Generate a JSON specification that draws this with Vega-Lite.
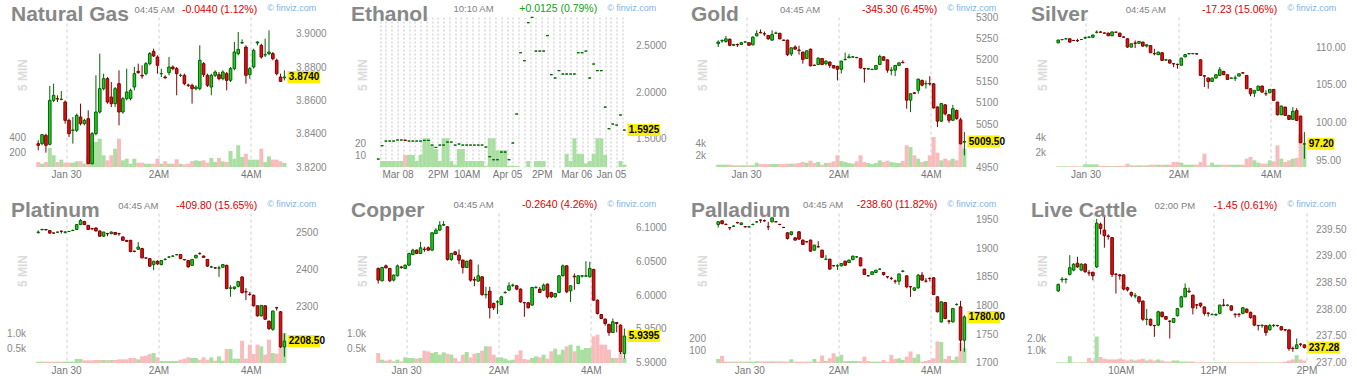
{
"$schema": "https://vega.github.io/schema/vega-lite/v6.json",
"background": "white",
"padding": {"left": 6.5, "top": 3, "right": 0, "bottom": 0},
"config": {
 "view": {"stroke": null},
 "axis": {"domain": false, "ticks": false, "labelFont": "Liberation Sans", "labelFontSize": 10, "labelColor": "#888888", "gridColor": "#cccccc", "gridDash": [3, 3], "labelFlush": false, "labelOverlap": false, "tickCount": 100},
 "axisX": {"labelPadding": 2, "labelColor": "#777777"},
 "axisY": {"labelPadding": 4},
 "text": {"font": "Liberation Sans"}
},
"datasets": {
"ng": [{"i":0,"o":3.834,"h":3.836,"l":3.83,"c":3.833,"v":67},{"i":1,"o":3.834,"h":3.8396,"l":3.833,"c":3.8394,"v":44},{"i":2,"o":3.839,"h":3.84,"l":3.8286,"c":3.833,"v":67},{"i":3,"o":3.8336,"h":3.8686,"l":3.833,"c":3.86,"v":253},{"i":4,"o":3.86,"h":3.87,"l":3.859,"c":3.863,"v":156},{"i":5,"o":3.861,"h":3.863,"l":3.859,"c":3.8608,"v":67},{"i":6,"o":3.8606,"h":3.8656,"l":3.86,"c":3.8606,"v":98},{"i":7,"o":3.859,"h":3.86,"l":3.846,"c":3.848,"v":58},{"i":8,"o":3.848,"h":3.849,"l":3.838,"c":3.84,"v":58},{"i":9,"o":3.842,"h":3.85,"l":3.834,"c":3.8422,"v":58},{"i":10,"o":3.842,"h":3.852,"l":3.841,"c":3.851,"v":76},{"i":11,"o":3.85,"h":3.858,"l":3.845,"c":3.846,"v":76},{"i":12,"o":3.846,"h":3.849,"l":3.845,"c":3.848,"v":44},{"i":13,"o":3.849,"h":3.854,"l":3.822,"c":3.822,"v":156},{"i":14,"o":3.822,"h":3.841,"l":3.8215,"c":3.84,"v":290},{"i":15,"o":3.84,"h":3.875,"l":3.839,"c":3.853,"v":333},{"i":16,"o":3.853,"h":3.888,"l":3.852,"c":3.867,"v":378},{"i":17,"o":3.867,"h":3.876,"l":3.866,"c":3.873,"v":156},{"i":18,"o":3.873,"h":3.874,"l":3.858,"c":3.859,"v":89},{"i":19,"o":3.862,"h":3.871,"l":3.856,"c":3.858,"v":156},{"i":20,"o":3.858,"h":3.868,"l":3.856,"c":3.867,"v":244},{"i":21,"o":3.87,"h":3.878,"l":3.845,"c":3.853,"v":378},{"i":22,"o":3.853,"h":3.862,"l":3.852,"c":3.861,"v":89},{"i":23,"o":3.861,"h":3.879,"l":3.86,"c":3.865,"v":111},{"i":24,"o":3.861,"h":3.867,"l":3.86,"c":3.866,"v":44},{"i":25,"o":3.868,"h":3.88,"l":3.866,"c":3.876,"v":111},{"i":26,"o":3.8774,"h":3.882,"l":3.876,"c":3.8766,"v":58},{"i":27,"o":3.875,"h":3.881,"l":3.873,"c":3.8746,"v":58},{"i":28,"o":3.876,"h":3.883,"l":3.875,"c":3.882,"v":44},{"i":29,"o":3.882,"h":3.889,"l":3.881,"c":3.888,"v":44},{"i":30,"o":3.8894,"h":3.891,"l":3.886,"c":3.8866,"v":44},{"i":31,"o":3.886,"h":3.887,"l":3.876,"c":3.881,"v":111},{"i":32,"o":3.876,"h":3.879,"l":3.874,"c":3.876,"v":44},{"i":33,"o":3.874,"h":3.875,"l":3.873,"c":3.8735,"v":76},{"i":34,"o":3.8766,"h":3.886,"l":3.875,"c":3.88,"v":44},{"i":35,"o":3.88,"h":3.881,"l":3.878,"c":3.879,"v":44},{"i":36,"o":3.879,"h":3.88,"l":3.863,"c":3.876,"v":102},{"i":37,"o":3.875,"h":3.876,"l":3.874,"c":3.875,"v":44},{"i":38,"o":3.875,"h":3.876,"l":3.869,"c":3.87,"v":36},{"i":39,"o":3.8692,"h":3.87,"l":3.868,"c":3.869,"v":44},{"i":40,"o":3.869,"h":3.87,"l":3.858,"c":3.867,"v":80},{"i":41,"o":3.867,"h":3.869,"l":3.866,"c":3.868,"v":89},{"i":42,"o":3.867,"h":3.893,"l":3.866,"c":3.884,"v":80},{"i":43,"o":3.882,"h":3.883,"l":3.874,"c":3.8754,"v":89},{"i":44,"o":3.875,"h":3.876,"l":3.868,"c":3.869,"v":58},{"i":45,"o":3.868,"h":3.876,"l":3.863,"c":3.875,"v":120},{"i":46,"o":3.875,"h":3.878,"l":3.874,"c":3.877,"v":67},{"i":47,"o":3.8754,"h":3.877,"l":3.872,"c":3.873,"v":120},{"i":48,"o":3.873,"h":3.878,"l":3.872,"c":3.877,"v":76},{"i":49,"o":3.876,"h":3.877,"l":3.866,"c":3.872,"v":67},{"i":50,"o":3.872,"h":3.88,"l":3.871,"c":3.879,"v":213},{"i":51,"o":3.879,"h":3.895,"l":3.878,"c":3.889,"v":111},{"i":52,"o":3.888,"h":3.901,"l":3.887,"c":3.8906,"v":290},{"i":53,"o":3.8944,"h":3.8966,"l":3.894,"c":3.8946,"v":133},{"i":54,"o":3.892,"h":3.893,"l":3.87,"c":3.875,"v":178},{"i":55,"o":3.8754,"h":3.88,"l":3.873,"c":3.879,"v":98},{"i":56,"o":3.88,"h":3.891,"l":3.879,"c":3.89,"v":98},{"i":57,"o":3.8944,"h":3.8955,"l":3.893,"c":3.895,"v":98},{"i":58,"o":3.893,"h":3.894,"l":3.885,"c":3.886,"v":244},{"i":59,"o":3.8872,"h":3.897,"l":3.886,"c":3.8874,"v":67},{"i":60,"o":3.888,"h":3.902,"l":3.887,"c":3.889,"v":142},{"i":61,"o":3.888,"h":3.889,"l":3.884,"c":3.885,"v":98},{"i":62,"o":3.884,"h":3.885,"l":3.875,"c":3.876,"v":98},{"i":63,"o":3.874,"h":3.876,"l":3.871,"c":3.8714,"v":76},{"i":64,"o":3.8735,"h":3.878,"l":3.872,"c":3.874,"v":53}],
"eth": [{"i":0,"o":1.282,"h":1.282,"l":1.282,"c":1.282,"v":0},{"i":1,"o":1.425,"h":1.425,"l":1.425,"c":1.425,"v":5},{"i":2,"o":1.475,"h":1.475,"l":1.475,"c":1.475,"v":5},{"i":3,"o":1.475,"h":1.475,"l":1.475,"c":1.475,"v":5},{"i":4,"o":1.475,"h":1.475,"l":1.475,"c":1.475,"v":5},{"i":5,"o":1.486,"h":1.486,"l":1.486,"c":1.486,"v":5},{"i":6,"o":1.486,"h":1.486,"l":1.486,"c":1.486,"v":5},{"i":7,"o":1.486,"h":1.486,"l":1.482,"c":1.482,"v":10},{"i":8,"o":1.475,"h":1.475,"l":1.475,"c":1.475,"v":10},{"i":9,"o":1.475,"h":1.475,"l":1.475,"c":1.475,"v":10},{"i":10,"o":1.475,"h":1.475,"l":1.475,"c":1.475,"v":5},{"i":11,"o":1.475,"h":1.475,"l":1.475,"c":1.475,"v":10},{"i":12,"o":1.482,"h":1.482,"l":1.482,"c":1.482,"v":24},{"i":13,"o":1.482,"h":1.482,"l":1.482,"c":1.482,"v":24},{"i":14,"o":1.432,"h":1.432,"l":1.432,"c":1.432,"v":18},{"i":15,"o":1.407,"h":1.407,"l":1.407,"c":1.407,"v":15},{"i":16,"o":1.432,"h":1.432,"l":1.432,"c":1.432,"v":5},{"i":17,"o":1.432,"h":1.432,"l":1.432,"c":1.432,"v":24},{"i":18,"o":1.464,"h":1.464,"l":1.464,"c":1.464,"v":24},{"i":19,"o":1.464,"h":1.464,"l":1.464,"c":1.464,"v":5},{"i":20,"o":1.432,"h":1.432,"l":1.432,"c":1.432,"v":2},{"i":21,"o":1.443,"h":1.443,"l":1.443,"c":1.443,"v":15},{"i":22,"o":1.432,"h":1.432,"l":1.432,"c":1.432,"v":15},{"i":23,"o":1.432,"h":1.432,"l":1.432,"c":1.432,"v":5},{"i":24,"o":1.432,"h":1.432,"l":1.432,"c":1.432,"v":5},{"i":25,"o":1.432,"h":1.432,"l":1.432,"c":1.432,"v":5},{"i":26,"o":1.432,"h":1.432,"l":1.432,"c":1.432,"v":5},{"i":27,"o":1.432,"h":1.432,"l":1.432,"c":1.432,"v":5},{"i":28,"o":1.411,"h":1.411,"l":1.411,"c":1.411,"v":1},{"i":29,"o":1.307,"h":1.307,"l":1.307,"c":1.307,"v":24},{"i":30,"o":1.275,"h":1.275,"l":1.275,"c":1.275,"v":24},{"i":31,"o":1.275,"h":1.275,"l":1.275,"c":1.275,"v":14},{"i":32,"o":1.357,"h":1.357,"l":1.357,"c":1.357,"v":14},{"i":33,"o":1.357,"h":1.357,"l":1.357,"c":1.357,"v":14},{"i":34,"o":1.275,"h":1.275,"l":1.275,"c":1.275,"v":1},{"i":35,"o":1.454,"h":1.454,"l":1.454,"c":1.454,"v":1},{"i":36,"o":1.764,"h":1.764,"l":1.764,"c":1.764,"v":1},{"i":37,"o":2.421,"h":2.421,"l":2.421,"c":2.421,"v":0},{"i":38,"o":2.336,"h":2.336,"l":2.336,"c":2.336,"v":0},{"i":39,"o":2.743,"h":2.743,"l":2.743,"c":2.743,"v":5},{"i":40,"o":2.8,"h":2.8,"l":2.8,"c":2.8,"v":0},{"i":41,"o":2.439,"h":2.439,"l":2.439,"c":2.439,"v":5},{"i":42,"o":2.439,"h":2.439,"l":2.439,"c":2.439,"v":5},{"i":43,"o":2.439,"h":2.439,"l":2.439,"c":2.439,"v":5},{"i":44,"o":2.604,"h":2.604,"l":2.604,"c":2.604,"v":0},{"i":45,"o":2.186,"h":2.186,"l":2.186,"c":2.186,"v":0},{"i":46,"o":2.15,"h":2.15,"l":2.15,"c":2.15,"v":0},{"i":47,"o":2.229,"h":2.229,"l":2.229,"c":2.229,"v":0},{"i":48,"o":2.193,"h":2.193,"l":2.193,"c":2.193,"v":0},{"i":49,"o":2.193,"h":2.193,"l":2.193,"c":2.193,"v":11},{"i":50,"o":2.193,"h":2.193,"l":2.193,"c":2.193,"v":5},{"i":51,"o":2.193,"h":2.193,"l":2.193,"c":2.193,"v":24},{"i":52,"o":2.421,"h":2.421,"l":2.421,"c":2.421,"v":11},{"i":53,"o":2.421,"h":2.421,"l":2.421,"c":2.421,"v":11},{"i":54,"o":2.439,"h":2.439,"l":2.439,"c":2.439,"v":3},{"i":55,"o":2.15,"h":2.15,"l":2.15,"c":2.15,"v":5},{"i":56,"o":2.3,"h":2.3,"l":2.3,"c":2.3,"v":11},{"i":57,"o":2.229,"h":2.229,"l":2.229,"c":2.229,"v":24},{"i":58,"o":2.229,"h":2.229,"l":2.229,"c":2.229,"v":24},{"i":59,"o":1.839,"h":1.839,"l":1.839,"c":1.839,"v":10},{"i":60,"o":1.607,"h":1.607,"l":1.607,"c":1.607,"v":0},{"i":61,"o":1.657,"h":1.657,"l":1.657,"c":1.657,"v":0},{"i":62,"o":1.646,"h":1.646,"l":1.646,"c":1.646,"v":0},{"i":63,"o":1.754,"h":1.754,"l":1.754,"c":1.754,"v":5},{"i":64,"o":1.5925,"h":1.5925,"l":1.5925,"c":1.5925,"v":2}],
"gold": [{"i":0,"o":5237.8,"h":5245.6,"l":5230,"c":5241.7,"v":400},{"i":1,"o":5244,"h":5248,"l":5240,"c":5245,"v":400},{"i":2,"o":5243,"h":5256,"l":5240,"c":5249,"v":400},{"i":3,"o":5248,"h":5250,"l":5231.6,"c":5234,"v":400},{"i":4,"o":5234,"h":5237,"l":5232,"c":5236,"v":286},{"i":5,"o":5236,"h":5238,"l":5230,"c":5235,"v":286},{"i":6,"o":5236,"h":5242,"l":5235,"c":5240,"v":286},{"i":7,"o":5241.7,"h":5243,"l":5240,"c":5241.7,"v":286},{"i":8,"o":5240,"h":5241,"l":5233,"c":5234,"v":286},{"i":9,"o":5235,"h":5255,"l":5234,"c":5253,"v":286},{"i":10,"o":5256,"h":5269,"l":5255,"c":5261,"v":743},{"i":11,"o":5264,"h":5271,"l":5262,"c":5263,"v":500},{"i":12,"o":5261,"h":5266,"l":5255.7,"c":5260.5,"v":500},{"i":13,"o":5257,"h":5258,"l":5247,"c":5249,"v":500},{"i":14,"o":5246,"h":5269,"l":5245,"c":5259,"v":500},{"i":15,"o":5262,"h":5266,"l":5261,"c":5262.5,"v":500},{"i":16,"o":5262,"h":5263,"l":5248,"c":5249,"v":500},{"i":17,"o":5246,"h":5247,"l":5244,"c":5245.6,"v":500},{"i":18,"o":5246,"h":5247,"l":5209,"c":5212,"v":570},{"i":19,"o":5214,"h":5229,"l":5209,"c":5228,"v":570},{"i":20,"o":5230,"h":5234,"l":5224,"c":5225,"v":570},{"i":21,"o":5223,"h":5233,"l":5212,"c":5222,"v":685},{"i":22,"o":5218,"h":5219,"l":5191,"c":5201,"v":857},{"i":23,"o":5203,"h":5222,"l":5202,"c":5221,"v":743},{"i":24,"o":5225,"h":5226,"l":5185,"c":5186,"v":1086},{"i":25,"o":5187.5,"h":5189,"l":5186,"c":5187,"v":685},{"i":26,"o":5189,"h":5206,"l":5188,"c":5204,"v":857},{"i":27,"o":5203,"h":5204,"l":5188,"c":5189,"v":400},{"i":28,"o":5191,"h":5199,"l":5187,"c":5197,"v":685},{"i":29,"o":5195,"h":5196,"l":5181,"c":5187,"v":743},{"i":30,"o":5187,"h":5188,"l":5180,"c":5181,"v":971},{"i":31,"o":5185,"h":5186,"l":5152,"c":5178,"v":2000},{"i":32,"o":5178,"h":5198,"l":5168,"c":5197,"v":1029},{"i":33,"o":5200.4,"h":5217,"l":5199,"c":5201,"v":857},{"i":34,"o":5205,"h":5214,"l":5204,"c":5207,"v":685},{"i":35,"o":5206.5,"h":5209,"l":5205,"c":5207,"v":570},{"i":36,"o":5205.5,"h":5207,"l":5204,"c":5205.1,"v":971},{"i":37,"o":5203,"h":5204,"l":5180,"c":5181,"v":2000},{"i":38,"o":5180,"h":5181,"l":5147,"c":5179,"v":857},{"i":39,"o":5178.5,"h":5180,"l":5177,"c":5179.4,"v":685},{"i":40,"o":5177.5,"h":5179,"l":5176,"c":5178,"v":500},{"i":41,"o":5178,"h":5188,"l":5177,"c":5187,"v":685},{"i":42,"o":5189,"h":5212,"l":5188,"c":5208,"v":1143},{"i":43,"o":5207,"h":5209,"l":5198,"c":5199,"v":857},{"i":44,"o":5200,"h":5201,"l":5170,"c":5176,"v":1086},{"i":45,"o":5175.6,"h":5183,"l":5164,"c":5176,"v":857},{"i":46,"o":5176,"h":5188,"l":5162,"c":5187,"v":743},{"i":47,"o":5187,"h":5194,"l":5186,"c":5193,"v":685},{"i":48,"o":5194,"h":5199,"l":5192,"c":5193.4,"v":1029},{"i":49,"o":5180,"h":5181,"l":5086,"c":5106,"v":3714},{"i":50,"o":5106,"h":5122,"l":5078,"c":5121,"v":3429},{"i":51,"o":5123,"h":5125,"l":5120,"c":5122,"v":2000},{"i":52,"o":5129,"h":5156,"l":5121,"c":5155,"v":1429},{"i":53,"o":5152,"h":5154,"l":5138,"c":5141,"v":857},{"i":54,"o":5144,"h":5152,"l":5133,"c":5144.5,"v":1029},{"i":55,"o":5144.5,"h":5162,"l":5140,"c":5144,"v":2000},{"i":56,"o":5144,"h":5146,"l":5086,"c":5088,"v":5143},{"i":57,"o":5090,"h":5092,"l":5043,"c":5057,"v":2457},{"i":58,"o":5057,"h":5099,"l":5055,"c":5098,"v":1143},{"i":59,"o":5095,"h":5097,"l":5070,"c":5074,"v":1429},{"i":60,"o":5072,"h":5073,"l":5053,"c":5059,"v":1143},{"i":61,"o":5059,"h":5095,"l":5057,"c":5086,"v":1429},{"i":62,"o":5082,"h":5084,"l":5060,"c":5063,"v":1143},{"i":63,"o":5060,"h":5065,"l":5003,"c":5004,"v":3886},{"i":64,"o":5008,"h":5032,"l":4977,"c":5009.5,"v":3143}],
"silver": [{"i":0,"o":110.57,"h":110.97,"l":110.5,"c":110.93,"v":89},{"i":1,"o":110.98,"h":111.05,"l":110.9,"c":111,"v":89},{"i":2,"o":111.08,"h":111.15,"l":111.02,"c":111.1,"v":89},{"i":3,"o":111.1,"h":111.15,"l":110.6,"c":110.66,"v":89},{"i":4,"o":110.88,"h":110.95,"l":110.82,"c":110.86,"v":89},{"i":5,"o":110.86,"h":111.1,"l":110.66,"c":110.84,"v":89},{"i":6,"o":111,"h":111.06,"l":110.95,"c":111.01,"v":89},{"i":7,"o":111.2,"h":111.4,"l":111.05,"c":111.24,"v":356},{"i":8,"o":111.3,"h":111.45,"l":111.2,"c":111.32,"v":356},{"i":9,"o":111.3,"h":111.65,"l":111.25,"c":111.6,"v":356},{"i":10,"o":111.95,"h":112.21,"l":111.8,"c":111.98,"v":356},{"i":11,"o":112,"h":112.1,"l":111.9,"c":111.96,"v":133},{"i":12,"o":111.86,"h":111.95,"l":111.8,"c":111.84,"v":133},{"i":13,"o":111.85,"h":111.9,"l":111.45,"c":111.5,"v":133},{"i":14,"o":111.5,"h":112.07,"l":111.45,"c":112,"v":133},{"i":15,"o":111.98,"h":112.02,"l":111.9,"c":111.96,"v":133},{"i":16,"o":111.85,"h":111.9,"l":111.35,"c":111.4,"v":133},{"i":17,"o":111.34,"h":111.4,"l":111.25,"c":111.3,"v":133},{"i":18,"o":111.1,"h":111.15,"l":109.9,"c":110,"v":444},{"i":19,"o":110,"h":110.48,"l":109.95,"c":110.44,"v":222},{"i":20,"o":110.55,"h":110.88,"l":109.87,"c":110.5,"v":222},{"i":21,"o":110.5,"h":110.8,"l":110.45,"c":110.75,"v":222},{"i":22,"o":110.66,"h":110.7,"l":110.05,"c":110.13,"v":222},{"i":23,"o":110.13,"h":110.35,"l":109.95,"c":110.3,"v":222},{"i":24,"o":110.2,"h":110.25,"l":109.2,"c":109.25,"v":311},{"i":25,"o":109.14,"h":109.78,"l":108.9,"c":109.12,"v":311},{"i":26,"o":108.99,"h":109.38,"l":108.95,"c":109.34,"v":311},{"i":27,"o":109.25,"h":109.3,"l":108.2,"c":108.24,"v":311},{"i":28,"o":108.28,"h":108.4,"l":108.2,"c":108.32,"v":311},{"i":29,"o":108.3,"h":108.35,"l":107.85,"c":107.88,"v":311},{"i":30,"o":107.8,"h":107.9,"l":107.35,"c":107.78,"v":667},{"i":31,"o":107.72,"h":107.8,"l":107.13,"c":107.7,"v":667},{"i":32,"o":107.6,"h":108.6,"l":107.55,"c":108.54,"v":578},{"i":33,"o":108.7,"h":109.05,"l":108.65,"c":109,"v":311},{"i":34,"o":109.1,"h":109.2,"l":109.05,"c":109.14,"v":311},{"i":35,"o":109.12,"h":109.18,"l":109.05,"c":109.14,"v":311},{"i":36,"o":109.12,"h":109.15,"l":109,"c":109.08,"v":311},{"i":37,"o":108.32,"h":108.35,"l":106.2,"c":106.25,"v":667},{"i":38,"o":106.2,"h":106.28,"l":104.71,"c":106.16,"v":1778},{"i":39,"o":105.9,"h":106,"l":104.49,"c":105.45,"v":222},{"i":40,"o":105.45,"h":105.95,"l":105.4,"c":105.9,"v":578},{"i":41,"o":105.9,"h":106.38,"l":105.85,"c":106.34,"v":311},{"i":42,"o":106.25,"h":107.35,"l":106.2,"c":107,"v":311},{"i":43,"o":106.78,"h":106.85,"l":106.3,"c":106.34,"v":311},{"i":44,"o":106.34,"h":106.38,"l":105.68,"c":105.72,"v":311},{"i":45,"o":105.88,"h":105.95,"l":105.85,"c":105.9,"v":311},{"i":46,"o":105.88,"h":106.25,"l":105.5,"c":105.92,"v":311},{"i":47,"o":106.16,"h":106.5,"l":106.12,"c":106.47,"v":311},{"i":48,"o":106.6,"h":106.69,"l":106.5,"c":106.56,"v":311},{"i":49,"o":106.25,"h":106.3,"l":104.45,"c":104.49,"v":1111},{"i":50,"o":104.49,"h":104.55,"l":103.5,"c":103.82,"v":1333},{"i":51,"o":103.91,"h":104.3,"l":103.38,"c":104.27,"v":889},{"i":52,"o":104.27,"h":104.88,"l":104.2,"c":104.84,"v":578},{"i":53,"o":104.84,"h":104.9,"l":104,"c":104.04,"v":444},{"i":54,"o":103.84,"h":104.27,"l":103.52,"c":103.82,"v":444},{"i":55,"o":103.96,"h":104.45,"l":103.9,"c":104.4,"v":889},{"i":56,"o":104.4,"h":104.45,"l":102.9,"c":102.94,"v":756},{"i":57,"o":102.72,"h":102.75,"l":100.95,"c":101.04,"v":2889},{"i":58,"o":101.04,"h":102.25,"l":101,"c":102.19,"v":1111},{"i":59,"o":102.06,"h":102.1,"l":100.9,"c":100.96,"v":667},{"i":60,"o":100.96,"h":101,"l":100.35,"c":100.43,"v":889},{"i":61,"o":100.43,"h":102.06,"l":100.4,"c":101.5,"v":1111},{"i":62,"o":101.6,"h":101.93,"l":100.25,"c":100.29,"v":1200},{"i":63,"o":100.87,"h":100.9,"l":97.3,"c":97.34,"v":4311},{"i":64,"o":97.15,"h":98.75,"l":95.22,"c":97.2,"v":2889}],
"plat": [{"i":0,"o":2499,"h":2504.4,"l":2495.6,"c":2500,"v":44},{"i":1,"o":2506,"h":2509,"l":2505,"c":2507,"v":44},{"i":2,"o":2507,"h":2508,"l":2504,"c":2506.2,"v":44},{"i":3,"o":2504,"h":2505,"l":2496,"c":2497.3,"v":44},{"i":4,"o":2497.5,"h":2499,"l":2496,"c":2497.3,"v":44},{"i":5,"o":2499.5,"h":2501,"l":2498,"c":2500,"v":44},{"i":6,"o":2502.5,"h":2504,"l":2496,"c":2501.8,"v":44},{"i":7,"o":2499.5,"h":2503,"l":2496,"c":2500,"v":44},{"i":8,"o":2501.5,"h":2503,"l":2500,"c":2501.8,"v":44},{"i":9,"o":2504,"h":2507,"l":2503,"c":2504.4,"v":44},{"i":10,"o":2507,"h":2521,"l":2506,"c":2520,"v":133},{"i":11,"o":2520,"h":2535,"l":2519,"c":2531,"v":133},{"i":12,"o":2528,"h":2530,"l":2519,"c":2520,"v":89},{"i":13,"o":2518,"h":2519,"l":2506,"c":2507,"v":89},{"i":14,"o":2509.5,"h":2510,"l":2505,"c":2508.9,"v":89},{"i":15,"o":2511,"h":2512,"l":2502,"c":2503,"v":100},{"i":16,"o":2503,"h":2504,"l":2487,"c":2489,"v":100},{"i":17,"o":2489,"h":2501,"l":2487,"c":2500,"v":100},{"i":18,"o":2496,"h":2498,"l":2489,"c":2495.6,"v":100},{"i":19,"o":2496,"h":2502,"l":2494,"c":2500,"v":100},{"i":20,"o":2499,"h":2500,"l":2492,"c":2494,"v":100},{"i":21,"o":2496,"h":2498,"l":2490,"c":2495.6,"v":122},{"i":22,"o":2487,"h":2488,"l":2476,"c":2478,"v":122},{"i":23,"o":2477.8,"h":2479,"l":2474,"c":2475.1,"v":122},{"i":24,"o":2478,"h":2479,"l":2446,"c":2448,"v":167},{"i":25,"o":2449,"h":2450,"l":2446,"c":2448.4,"v":167},{"i":26,"o":2454,"h":2473,"l":2452,"c":2460,"v":122},{"i":27,"o":2456,"h":2458,"l":2430,"c":2431,"v":222},{"i":28,"o":2431,"h":2432,"l":2428,"c":2430.7,"v":244},{"i":29,"o":2429,"h":2430,"l":2407,"c":2409,"v":300},{"i":30,"o":2413,"h":2423,"l":2398,"c":2422,"v":333},{"i":31,"o":2422,"h":2425,"l":2412,"c":2415,"v":189},{"i":32,"o":2413,"h":2425,"l":2411,"c":2424,"v":67},{"i":33,"o":2427,"h":2430,"l":2424,"c":2427.1,"v":67},{"i":34,"o":2433,"h":2436,"l":2431,"c":2433.3,"v":67},{"i":35,"o":2435.5,"h":2438,"l":2434,"c":2436,"v":67},{"i":36,"o":2439.5,"h":2441,"l":2438,"c":2439.6,"v":67},{"i":37,"o":2440,"h":2441,"l":2428,"c":2429,"v":111},{"i":38,"o":2426.5,"h":2428,"l":2424,"c":2426.2,"v":144},{"i":39,"o":2424,"h":2425,"l":2405,"c":2407,"v":189},{"i":40,"o":2411,"h":2428,"l":2409,"c":2427,"v":167},{"i":41,"o":2431,"h":2439,"l":2430,"c":2438,"v":167},{"i":42,"o":2442.5,"h":2446,"l":2440,"c":2442.2,"v":111},{"i":43,"o":2436,"h":2437,"l":2431,"c":2432.4,"v":189},{"i":44,"o":2427,"h":2428,"l":2407,"c":2409,"v":111},{"i":45,"o":2406.7,"h":2410,"l":2404,"c":2406.7,"v":189},{"i":46,"o":2404.5,"h":2406,"l":2401,"c":2404,"v":78},{"i":47,"o":2403.5,"h":2410,"l":2380,"c":2404,"v":222},{"i":48,"o":2406,"h":2414,"l":2405,"c":2413,"v":78},{"i":49,"o":2411,"h":2413,"l":2347,"c":2349,"v":467},{"i":50,"o":2350,"h":2358,"l":2327,"c":2350.7,"v":467},{"i":51,"o":2349,"h":2354,"l":2346,"c":2353.3,"v":144},{"i":52,"o":2355,"h":2369,"l":2352,"c":2368,"v":144},{"i":53,"o":2380,"h":2382,"l":2336,"c":2338,"v":744},{"i":54,"o":2340.5,"h":2350,"l":2318,"c":2340,"v":144},{"i":55,"o":2333.5,"h":2340,"l":2330,"c":2332.9,"v":611},{"i":56,"o":2331,"h":2333,"l":2301,"c":2303,"v":300},{"i":57,"o":2303,"h":2304,"l":2274,"c":2276,"v":611},{"i":58,"o":2276,"h":2305,"l":2274,"c":2304,"v":556},{"i":59,"o":2303,"h":2304,"l":2265,"c":2267,"v":278},{"i":60,"o":2262,"h":2263,"l":2238,"c":2242,"v":778},{"i":61,"o":2240,"h":2290,"l":2236,"c":2289,"v":333},{"i":62,"o":2298,"h":2300,"l":2290,"c":2297.3,"v":311},{"i":63,"o":2287,"h":2289,"l":2190,"c":2193,"v":522},{"i":64,"o":2193,"h":2229,"l":2167,"c":2208.5,"v":1000}],
"copper": [{"i":0,"o":6.0394,"h":6.0409,"l":6.0172,"c":6.0222,"v":333},{"i":1,"o":6.0212,"h":6.0419,"l":6.0202,"c":6.0409,"v":111},{"i":2,"o":6.0433,"h":6.0453,"l":6.0394,"c":6.0404,"v":78},{"i":3,"o":6.0394,"h":6.0404,"l":6.0192,"c":6.0212,"v":111},{"i":4,"o":6.0222,"h":6.0306,"l":6.0202,"c":6.0296,"v":56},{"i":5,"o":6.0286,"h":6.0453,"l":6.0276,"c":6.0433,"v":111},{"i":6,"o":6.0415,"h":6.0433,"l":6.0389,"c":6.0409,"v":56},{"i":7,"o":6.0394,"h":6.0453,"l":6.0384,"c":6.0443,"v":189},{"i":8,"o":6.0443,"h":6.0626,"l":6.0433,"c":6.0616,"v":167},{"i":9,"o":6.06,"h":6.0685,"l":6.059,"c":6.0665,"v":167},{"i":10,"o":6.0665,"h":6.0675,"l":6.0606,"c":6.0616,"v":144},{"i":11,"o":6.0616,"h":6.0788,"l":6.0606,"c":6.07,"v":167},{"i":12,"o":6.068,"h":6.0715,"l":6.064,"c":6.0675,"v":411},{"i":13,"o":6.07,"h":6.072,"l":6.0655,"c":6.0665,"v":389},{"i":14,"o":6.0665,"h":6.0931,"l":6.065,"c":6.0921,"v":333},{"i":15,"o":6.0911,"h":6.099,"l":6.09,"c":6.0961,"v":367},{"i":16,"o":6.0961,"h":6.1094,"l":6.095,"c":6.1034,"v":278},{"i":17,"o":6.1034,"h":6.1094,"l":6.1024,"c":6.1044,"v":356},{"i":18,"o":6.101,"h":6.102,"l":6.051,"c":6.0527,"v":311},{"i":19,"o":6.0527,"h":6.0626,"l":6.0507,"c":6.0616,"v":278},{"i":20,"o":6.064,"h":6.065,"l":6.059,"c":6.06,"v":167},{"i":21,"o":6.0591,"h":6.0675,"l":6.0458,"c":6.0517,"v":56},{"i":22,"o":6.0517,"h":6.0527,"l":6.032,"c":6.0409,"v":278},{"i":23,"o":6.0409,"h":6.0507,"l":6.0399,"c":6.0502,"v":367},{"i":24,"o":6.0517,"h":6.0527,"l":6.02,"c":6.0222,"v":189},{"i":25,"o":6.023,"h":6.0271,"l":6.0133,"c":6.0222,"v":311},{"i":26,"o":6.0207,"h":6.0453,"l":6.0197,"c":6.0286,"v":333},{"i":27,"o":6.0271,"h":6.028,"l":5.999,"c":6.001,"v":411},{"i":28,"o":6.0005,"h":6.0123,"l":5.995,"c":6.001,"v":556},{"i":29,"o":6.0059,"h":6.0123,"l":5.9655,"c":5.9813,"v":556},{"i":30,"o":5.9877,"h":5.989,"l":5.978,"c":5.9813,"v":278},{"i":31,"o":5.9899,"h":5.9926,"l":5.972,"c":5.9901,"v":189},{"i":32,"o":5.9862,"h":5.999,"l":5.985,"c":5.9975,"v":189},{"i":33,"o":6.0035,"h":6.006,"l":6.0025,"c":6.0039,"v":144},{"i":34,"o":6.0074,"h":6.019,"l":6.006,"c":6.0138,"v":89},{"i":35,"o":6.0145,"h":6.017,"l":6.012,"c":6.0148,"v":111},{"i":36,"o":6.0138,"h":6.0148,"l":6.0074,"c":6.0089,"v":278},{"i":37,"o":6.0089,"h":6.0099,"l":5.9887,"c":5.9901,"v":422},{"i":38,"o":5.989,"h":5.9901,"l":5.968,"c":5.9887,"v":133},{"i":39,"o":5.9887,"h":5.99,"l":5.9804,"c":5.9813,"v":111},{"i":40,"o":5.9853,"h":6.0123,"l":5.984,"c":6.0113,"v":167},{"i":41,"o":6.011,"h":6.0138,"l":6.01,"c":6.0113,"v":222},{"i":42,"o":6.0089,"h":6.0123,"l":6.0035,"c":6.0039,"v":189},{"i":43,"o":6.0074,"h":6.0172,"l":6.006,"c":6.0148,"v":278},{"i":44,"o":6.0163,"h":6.0172,"l":5.995,"c":5.9975,"v":144},{"i":45,"o":6.0039,"h":6.005,"l":5.996,"c":5.9975,"v":389},{"i":46,"o":5.9975,"h":6.003,"l":5.996,"c":6.0025,"v":478},{"i":47,"o":6.004,"h":6.0296,"l":6.003,"c":6.0286,"v":278},{"i":48,"o":6.0286,"h":6.0453,"l":6.0276,"c":6.0433,"v":444},{"i":49,"o":6.0433,"h":6.0443,"l":6.003,"c":6.0049,"v":556},{"i":50,"o":6.0064,"h":6.0148,"l":5.99,"c":6.0138,"v":611},{"i":51,"o":6.028,"h":6.032,"l":6.008,"c":6.0271,"v":389},{"i":52,"o":6.0172,"h":6.0296,"l":6.0162,"c":6.0286,"v":578},{"i":53,"o":6.0281,"h":6.0296,"l":6.026,"c":6.0286,"v":444},{"i":54,"o":6.0281,"h":6.0502,"l":6.027,"c":6.0286,"v":500},{"i":55,"o":6.0271,"h":6.0493,"l":6.026,"c":6.0394,"v":500},{"i":56,"o":6.038,"h":6.039,"l":5.9916,"c":5.9926,"v":889},{"i":57,"o":5.9926,"h":5.9936,"l":5.9714,"c":5.9729,"v":944},{"i":58,"o":5.9714,"h":5.972,"l":5.9645,"c":5.9655,"v":611},{"i":59,"o":5.9645,"h":5.9655,"l":5.955,"c":5.9581,"v":611},{"i":60,"o":5.9567,"h":5.9577,"l":5.94,"c":5.9448,"v":444},{"i":61,"o":5.9448,"h":5.9655,"l":5.9438,"c":5.9606,"v":167},{"i":62,"o":5.9594,"h":5.96,"l":5.945,"c":5.9581,"v":167},{"i":63,"o":5.9557,"h":5.9567,"l":5.913,"c":5.9163,"v":333},{"i":64,"o":5.9138,"h":5.9507,"l":5.9064,"c":5.9395,"v":167}],
"pall": [{"i":0,"o":1941.3,"h":1947,"l":1936,"c":1946,"v":32},{"i":1,"o":1947.7,"h":1949,"l":1941,"c":1943,"v":57},{"i":2,"o":1941.5,"h":1943,"l":1940,"c":1941.3,"v":11},{"i":3,"o":1935.8,"h":1937,"l":1931.4,"c":1935.5,"v":11},{"i":4,"o":1938.2,"h":1940,"l":1937,"c":1938.4,"v":11},{"i":5,"o":1944.5,"h":1946,"l":1943,"c":1944.2,"v":11},{"i":6,"o":1941.3,"h":1944.2,"l":1940,"c":1944,"v":11},{"i":7,"o":1937.5,"h":1938,"l":1936,"c":1937.2,"v":11},{"i":8,"o":1937,"h":1938,"l":1936,"c":1937.2,"v":11},{"i":9,"o":1941,"h":1943,"l":1940,"c":1941.3,"v":11},{"i":10,"o":1945.7,"h":1947,"l":1944,"c":1945.9,"v":13},{"i":11,"o":1948.9,"h":1950,"l":1944,"c":1948.8,"v":13},{"i":12,"o":1947.9,"h":1950,"l":1946,"c":1947.7,"v":13},{"i":13,"o":1937.4,"h":1945.9,"l":1931.4,"c":1937.2,"v":13},{"i":14,"o":1945.9,"h":1952.9,"l":1945,"c":1952.9,"v":13},{"i":15,"o":1946.1,"h":1947,"l":1945,"c":1945.9,"v":13},{"i":16,"o":1941.5,"h":1942,"l":1940,"c":1941.3,"v":13},{"i":17,"o":1936.2,"h":1937,"l":1935,"c":1936,"v":13},{"i":18,"o":1926.7,"h":1928,"l":1915,"c":1916.9,"v":11},{"i":19,"o":1923.8,"h":1928.5,"l":1922,"c":1928.5,"v":30},{"i":20,"o":1918,"h":1919,"l":1913.5,"c":1914,"v":11},{"i":21,"o":1928.5,"h":1929.5,"l":1914.5,"c":1915.7,"v":11},{"i":22,"o":1914,"h":1915,"l":1905.5,"c":1906.4,"v":11},{"i":23,"o":1911.2,"h":1912,"l":1910,"c":1911,"v":11},{"i":24,"o":1914,"h":1915,"l":1893.5,"c":1894.8,"v":11},{"i":25,"o":1896.5,"h":1906,"l":1895.5,"c":1905.2,"v":32},{"i":26,"o":1902.5,"h":1912.2,"l":1901,"c":1902.3,"v":11},{"i":27,"o":1896.5,"h":1897,"l":1883.1,"c":1884,"v":60},{"i":28,"o":1880.6,"h":1887.8,"l":1879,"c":1880.8,"v":16},{"i":29,"o":1880.8,"h":1881.5,"l":1863,"c":1863.4,"v":38},{"i":30,"o":1869.4,"h":1870.3,"l":1868,"c":1869.2,"v":78},{"i":31,"o":1869,"h":1872,"l":1862,"c":1869.2,"v":51},{"i":32,"o":1869.2,"h":1874,"l":1868,"c":1873.3,"v":65},{"i":33,"o":1877.3,"h":1878,"l":1869,"c":1870.3,"v":16},{"i":34,"o":1875,"h":1880,"l":1874,"c":1879.1,"v":16},{"i":35,"o":1880,"h":1887,"l":1879,"c":1886,"v":16},{"i":36,"o":1884.7,"h":1886,"l":1883,"c":1884.9,"v":16},{"i":37,"o":1883.1,"h":1884,"l":1868,"c":1869.2,"v":16},{"i":38,"o":1863.4,"h":1864,"l":1853,"c":1854.1,"v":51},{"i":39,"o":1852,"h":1853,"l":1850.7,"c":1851.7,"v":16},{"i":40,"o":1854.1,"h":1859,"l":1853,"c":1858.8,"v":11},{"i":41,"o":1857.6,"h":1862,"l":1857,"c":1861.6,"v":11},{"i":42,"o":1863.2,"h":1865,"l":1862,"c":1863.4,"v":11},{"i":43,"o":1857.6,"h":1858.5,"l":1852,"c":1854.1,"v":24},{"i":44,"o":1850.2,"h":1851,"l":1847,"c":1850,"v":11},{"i":45,"o":1847.3,"h":1850,"l":1844.2,"c":1847.1,"v":65},{"i":46,"o":1842.6,"h":1845,"l":1838,"c":1842.4,"v":32},{"i":47,"o":1842.4,"h":1855,"l":1836,"c":1855,"v":38},{"i":48,"o":1859.5,"h":1862,"l":1858,"c":1859.9,"v":24},{"i":49,"o":1851.7,"h":1852.5,"l":1830,"c":1832.6,"v":51},{"i":50,"o":1832.8,"h":1834,"l":1815,"c":1832.6,"v":92},{"i":51,"o":1826.7,"h":1831,"l":1825,"c":1830.8,"v":43},{"i":52,"o":1830.8,"h":1855,"l":1829,"c":1852.9,"v":70},{"i":53,"o":1852.9,"h":1858.5,"l":1843,"c":1844.2,"v":11},{"i":54,"o":1842.6,"h":1848,"l":1840,"c":1842.4,"v":16},{"i":55,"o":1847.3,"h":1849,"l":1842,"c":1847.1,"v":24},{"i":56,"o":1848.3,"h":1849.5,"l":1818,"c":1819.2,"v":38},{"i":57,"o":1815.1,"h":1816,"l":1788,"c":1789,"v":173},{"i":58,"o":1771.5,"h":1807,"l":1770,"c":1806.4,"v":168},{"i":59,"o":1805.2,"h":1806,"l":1776,"c":1777.3,"v":32},{"i":60,"o":1772.9,"h":1775,"l":1768,"c":1772.7,"v":57},{"i":61,"o":1771.5,"h":1795,"l":1770,"c":1794.8,"v":24},{"i":62,"o":1801.5,"h":1804,"l":1800,"c":1801.7,"v":51},{"i":63,"o":1797.7,"h":1808,"l":1720.3,"c":1739.5,"v":160},{"i":64,"o":1739.5,"h":1783,"l":1719.2,"c":1780,"v":119}],
"cattle": [{"i":0,"o":238.34,"h":238.48,"l":238.32,"c":238.46,"v":57},{"i":1,"o":238.55,"h":238.6,"l":238.5,"c":238.56,"v":57},{"i":2,"o":238.555,"h":238.58,"l":238.48,"c":238.56,"v":57},{"i":3,"o":238.65,"h":239.01,"l":238.63,"c":238.775,"v":543},{"i":4,"o":238.73,"h":238.86,"l":238.71,"c":238.84,"v":57},{"i":5,"o":238.86,"h":238.98,"l":238.77,"c":238.79,"v":57},{"i":6,"o":238.73,"h":238.86,"l":238.71,"c":238.84,"v":57},{"i":7,"o":238.84,"h":238.86,"l":238.68,"c":238.7,"v":57},{"i":8,"o":238.68,"h":238.73,"l":238.62,"c":238.675,"v":400},{"i":9,"o":238.69,"h":238.7,"l":238.54,"c":238.625,"v":200},{"i":10,"o":238.79,"h":239.69,"l":238.77,"c":239.61,"v":2114},{"i":11,"o":239.59,"h":239.62,"l":239.4,"c":239.51,"v":486},{"i":12,"o":239.48,"h":239.73,"l":239.15,"c":239.375,"v":343},{"i":13,"o":239.37,"h":239.4,"l":239.3,"c":239.36,"v":286},{"i":14,"o":239.34,"h":239.35,"l":238.6,"c":238.65,"v":286},{"i":15,"o":238.655,"h":238.67,"l":238.29,"c":238.65,"v":286},{"i":16,"o":238.64,"h":238.66,"l":238.55,"c":238.625,"v":343},{"i":17,"o":238.64,"h":238.65,"l":238.35,"c":238.375,"v":286},{"i":18,"o":238.4,"h":238.42,"l":238.33,"c":238.36,"v":200},{"i":19,"o":238.31,"h":238.33,"l":238.22,"c":238.26,"v":286},{"i":20,"o":238.245,"h":238.3,"l":238.2,"c":238.25,"v":200},{"i":21,"o":238.23,"h":238.24,"l":238.1,"c":238.14,"v":286},{"i":22,"o":238.15,"h":238.16,"l":237.78,"c":237.81,"v":343},{"i":23,"o":237.805,"h":238,"l":237.7,"c":237.81,"v":200},{"i":24,"o":237.81,"h":237.82,"l":237.68,"c":237.7,"v":286},{"i":25,"o":237.695,"h":237.7,"l":237.48,"c":237.69,"v":200},{"i":26,"o":237.7,"h":237.97,"l":237.68,"c":237.95,"v":286},{"i":27,"o":237.94,"h":237.96,"l":237.84,"c":237.86,"v":200},{"i":28,"o":237.86,"h":237.87,"l":237.8,"c":237.81,"v":114},{"i":29,"o":237.775,"h":237.79,"l":237.45,"c":237.77,"v":114},{"i":30,"o":237.75,"h":237.83,"l":237.74,"c":237.825,"v":200},{"i":31,"o":237.875,"h":238.02,"l":237.86,"c":238.01,"v":200},{"i":32,"o":238.04,"h":238.25,"l":238.03,"c":238.23,"v":114},{"i":33,"o":238.23,"h":238.48,"l":238.22,"c":238.39,"v":114},{"i":34,"o":238.335,"h":238.4,"l":238.3,"c":238.325,"v":114},{"i":35,"o":238.26,"h":238.27,"l":237.9,"c":238.025,"v":114},{"i":36,"o":238.08,"h":238.09,"l":238,"c":238.075,"v":57},{"i":37,"o":238.11,"h":238.12,"l":238.03,"c":238.06,"v":57},{"i":38,"o":238.04,"h":238.05,"l":237.88,"c":237.92,"v":57},{"i":39,"o":237.925,"h":237.94,"l":237.86,"c":237.92,"v":57},{"i":40,"o":237.9,"h":237.92,"l":237.88,"c":237.9,"v":57},{"i":41,"o":237.89,"h":237.92,"l":237.87,"c":237.9,"v":57},{"i":42,"o":237.92,"h":238.08,"l":237.9,"c":238.075,"v":57},{"i":43,"o":238.075,"h":238.19,"l":238.05,"c":238.07,"v":57},{"i":44,"o":238.07,"h":238.09,"l":238.05,"c":238.075,"v":57},{"i":45,"o":238.06,"h":238.07,"l":237.97,"c":237.98,"v":57},{"i":46,"o":237.905,"h":237.92,"l":237.84,"c":237.9,"v":57},{"i":47,"o":237.905,"h":237.92,"l":237.85,"c":237.9,"v":57},{"i":48,"o":237.92,"h":238.04,"l":237.9,"c":238.025,"v":57},{"i":49,"o":238,"h":238.01,"l":237.92,"c":237.94,"v":57},{"i":50,"o":237.94,"h":237.95,"l":237.82,"c":237.84,"v":57},{"i":51,"o":237.875,"h":237.89,"l":237.68,"c":237.7,"v":57},{"i":52,"o":237.695,"h":237.7,"l":237.6,"c":237.69,"v":57},{"i":53,"o":237.69,"h":237.72,"l":237.65,"c":237.695,"v":57},{"i":54,"o":237.69,"h":237.7,"l":237.5,"c":237.56,"v":57},{"i":55,"o":237.61,"h":237.72,"l":237.6,"c":237.69,"v":57},{"i":56,"o":237.69,"h":237.72,"l":237.66,"c":237.695,"v":57},{"i":57,"o":237.695,"h":237.7,"l":237.67,"c":237.69,"v":57},{"i":58,"o":237.67,"h":237.68,"l":237.6,"c":237.61,"v":57},{"i":59,"o":237.615,"h":237.62,"l":237.58,"c":237.61,"v":114},{"i":60,"o":237.61,"h":237.62,"l":237.22,"c":237.26,"v":200},{"i":61,"o":237.265,"h":237.3,"l":237.2,"c":237.26,"v":286},{"i":62,"o":237.26,"h":237.45,"l":237.25,"c":237.33,"v":629},{"i":63,"o":237.345,"h":237.36,"l":237.3,"c":237.34,"v":286},{"i":64,"o":237.33,"h":237.34,"l":237.26,"c":237.28,"v":200}]
},
"columns": 4,
"spacing": {"row": 46, "column": 80},
"bounds": "flush",
"concat": [
{
 "width": 260, "height": 150, "data": {"name": "ng"},
 "resolve": {"scale": {"y": "independent"}},
 "layer": [
  {"mark": {"type": "bar", "width": 4}, "encoding": {"x": {"field": "i", "type": "quantitative", "title": null, "scale": {"domain": [-0.45, 64.55], "nice": false, "zero": false}, "axis": {"tickCount": 100, "labelOverlap": false, "values": [7.25, 31.25, 55.25], "labelExpr": "datum.value < 20 ? 'Jan 30' : datum.value < 40 ? '2AM' : '4AM'"}}, "y": {"field": "v", "type": "quantitative", "title": null, "scale": {"domain": [0, 2000], "nice": false}, "axis": {"tickCount": 100, "labelOverlap": false, "orient": "left", "values": [200, 400], "grid": false, "labelPadding": 6}}, "color": {"condition": {"test": "datum.c >= datum.o", "value": "#aadfa2"}, "value": "#f8bcbc"}}},
  {"layer": [
   {"mark": {"type": "rule", "strokeWidth": 1}, "encoding": {"x": {"field": "i", "type": "quantitative", "title": null, "scale": {"domain": [-0.45, 64.55], "nice": false, "zero": false}}, "y": {"field": "l", "type": "quantitative", "title": null, "scale": {"domain": [3.82, 3.91], "nice": false, "zero": false}, "axis": {"tickCount": 100, "labelOverlap": false, "orient": "right", "values": [3.82, 3.84, 3.86, 3.88, 3.9], "format": ".4f"}}, "y2": {"field": "h"}, "color": {"condition": {"test": "datum.c >= datum.o", "value": "#006400"}, "value": "#800000"}}},
   {"mark": {"type": "bar", "width": 2.6, "strokeWidth": 1}, "encoding": {"x": {"field": "i", "type": "quantitative", "title": null, "scale": {"domain": [-0.45, 64.55], "nice": false, "zero": false}}, "y": {"field": "o", "type": "quantitative", "title": null, "scale": {"domain": [3.82, 3.91], "nice": false, "zero": false}}, "y2": {"field": "c"}, "fill": {"condition": {"test": "datum.c >= datum.o", "value": "#22cc22"}, "value": "#dd1111"}, "stroke": {"condition": {"test": "datum.c >= datum.o", "value": "#006400"}, "value": "#800000"}}},
   {"data": {"values": [{}]}, "mark": {"type": "rect", "color": "#fbf000"}, "encoding": {"x": {"datum": 64.8, "type": "quantitative", "title": null}, "x2": {"datum": 73.3}, "y": {"datum": 3.8704, "type": "quantitative", "title": null}, "y2": {"datum": 3.8776}}},
   {"data": {"values": [{}]}, "mark": {"type": "text", "text": "3.8740", "fontSize": 10, "fontWeight": "bold", "color": "#000000", "align": "left", "baseline": "middle"}, "encoding": {"x": {"datum": 65.15, "type": "quantitative", "title": null}, "y": {"datum": 3.874, "type": "quantitative", "title": null}}},
   {"data": {"values": [{}]}, "mark": {"type": "text", "text": "Natural Gas", "fontSize": 21, "fontWeight": "bold", "color": "#888888", "align": "left", "baseline": "alphabetic"}, "encoding": {"x": {"datum": -7.08, "type": "quantitative", "title": null}, "y": {"datum": 3.9076, "type": "quantitative", "title": null}}},
   {"data": {"values": [{}]}, "mark": {"type": "text", "text": "04:45 AM", "fontSize": 9.5, "color": "#808080", "align": "left", "baseline": "middle"}, "encoding": {"x": {"datum": 25.05, "type": "quantitative", "title": null}, "y": {"datum": 3.9145, "type": "quantitative", "title": null}}},
   {"data": {"values": [{}]}, "mark": {"type": "text", "text": "-0.0440 (1.12%)", "fontSize": 10.5, "color": "#dd0000", "align": "right", "baseline": "middle"}, "encoding": {"x": {"datum": 56.93, "type": "quantitative", "title": null}, "y": {"datum": 3.9145, "type": "quantitative", "title": null}}},
   {"data": {"values": [{}]}, "mark": {"type": "text", "text": "© finviz.com", "fontSize": 9, "color": "#7fb2e5", "align": "right", "baseline": "middle"}, "encoding": {"x": {"datum": 72.3, "type": "quantitative", "title": null}, "y": {"datum": 3.9154, "type": "quantitative", "title": null}}},
   {"data": {"values": [{}]}, "mark": {"type": "text", "text": "5 MIN", "fontSize": 12, "fontWeight": "bold", "color": "#dadada", "angle": 270, "align": "center", "baseline": "middle"}, "encoding": {"x": {"datum": -3.95, "type": "quantitative", "title": null}, "y": {"datum": 3.8752, "type": "quantitative", "title": null}}}
  ]}
 ]
},
{
 "width": 260, "height": 150, "data": {"name": "eth"},
 "resolve": {"scale": {"y": "independent"}},
 "layer": [
  {"mark": {"type": "bar", "width": 4}, "encoding": {"x": {"field": "i", "type": "quantitative", "title": null, "scale": {"domain": [-0.45, 64.55], "nice": false, "zero": false}, "axis": {"tickCount": 100, "labelOverlap": false, "gridDash": [2, 2], "gridColor": "#c4c4c4", "values": [0.5, 2, 3.5, 5, 6.5, 8, 9.5, 11, 12.5, 14, 15.5, 17, 18.5, 20, 21.5, 23, 24.5, 26, 27.5, 29, 30.5, 32, 33.5, 35, 36.5, 38, 39.5, 41, 42.5, 44, 45.5, 47, 48.5, 50, 51.5, 53, 54.5, 56, 57.5, 59, 60.5, 62, 63.5], "labelExpr": "datum.value == 5 ? 'Mar 08' : datum.value == 15.5 ? '2PM' : datum.value == 23 ? '10AM' : datum.value == 33.5 ? 'Apr 05' : datum.value == 42.5 ? '2PM' : datum.value == 51.5 ? 'Mar 06' : datum.value == 60.5 ? 'Jan 05' : ''"}}, "y": {"field": "v", "type": "quantitative", "title": null, "scale": {"domain": [0, 125], "nice": false}, "axis": {"tickCount": 100, "labelOverlap": false, "orient": "left", "values": [10, 20], "grid": false, "labelPadding": 6}}, "color": {"condition": {"test": "datum.c >= datum.o", "value": "#aadfa2"}, "value": "#f8bcbc"}}},
  {"layer": [
   {"mark": {"type": "rule", "strokeWidth": 1}, "encoding": {"x": {"field": "i", "type": "quantitative", "title": null, "scale": {"domain": [-0.45, 64.55], "nice": false, "zero": false}}, "y": {"field": "l", "type": "quantitative", "title": null, "scale": {"domain": [1.197, 2.804], "nice": false, "zero": false}, "axis": {"tickCount": 100, "labelOverlap": false, "orient": "right", "values": [1.5, 2, 2.5], "format": ".4f"}}, "y2": {"field": "h"}, "color": {"condition": {"test": "datum.c >= datum.o", "value": "#006400"}, "value": "#800000"}}},
   {"mark": {"type": "bar", "width": 2.6, "strokeWidth": 1}, "encoding": {"x": {"field": "i", "type": "quantitative", "title": null, "scale": {"domain": [-0.45, 64.55], "nice": false, "zero": false}}, "y": {"field": "o", "type": "quantitative", "title": null, "scale": {"domain": [1.197, 2.804], "nice": false, "zero": false}}, "y2": {"field": "c"}, "fill": {"condition": {"test": "datum.c >= datum.o", "value": "#22cc22"}, "value": "#dd1111"}, "stroke": {"condition": {"test": "datum.c >= datum.o", "value": "#006400"}, "value": "#800000"}}},
   {"data": {"values": [{}]}, "mark": {"type": "rect", "color": "#fbf000"}, "encoding": {"x": {"datum": 64.8, "type": "quantitative", "title": null}, "x2": {"datum": 73.3}, "y": {"datum": 1.5282, "type": "quantitative", "title": null}, "y2": {"datum": 1.6568}}},
   {"data": {"values": [{}]}, "mark": {"type": "text", "text": "1.5925", "fontSize": 10, "fontWeight": "bold", "color": "#000000", "align": "left", "baseline": "middle"}, "encoding": {"x": {"datum": 65.15, "type": "quantitative", "title": null}, "y": {"datum": 1.5925, "type": "quantitative", "title": null}}},
   {"data": {"values": [{}]}, "mark": {"type": "text", "text": "Ethanol", "fontSize": 21, "fontWeight": "bold", "color": "#888888", "align": "left", "baseline": "alphabetic"}, "encoding": {"x": {"datum": -7.08, "type": "quantitative", "title": null}, "y": {"datum": 2.7611, "type": "quantitative", "title": null}}},
   {"data": {"values": [{}]}, "mark": {"type": "text", "text": "10:10 AM", "fontSize": 9.5, "color": "#808080", "align": "left", "baseline": "middle"}, "encoding": {"x": {"datum": 19.55, "type": "quantitative", "title": null}, "y": {"datum": 2.8844, "type": "quantitative", "title": null}}},
   {"data": {"values": [{}]}, "mark": {"type": "text", "text": "+0.0125 (0.79%)", "fontSize": 10.5, "color": "#10a010", "align": "right", "baseline": "middle"}, "encoding": {"x": {"datum": 56.93, "type": "quantitative", "title": null}, "y": {"datum": 2.8844, "type": "quantitative", "title": null}}},
   {"data": {"values": [{}]}, "mark": {"type": "text", "text": "© finviz.com", "fontSize": 9, "color": "#7fb2e5", "align": "right", "baseline": "middle"}, "encoding": {"x": {"datum": 72.3, "type": "quantitative", "title": null}, "y": {"datum": 2.9004, "type": "quantitative", "title": null}}},
   {"data": {"values": [{}]}, "mark": {"type": "text", "text": "5 MIN", "fontSize": 12, "fontWeight": "bold", "color": "#dadada", "angle": 270, "align": "center", "baseline": "middle"}, "encoding": {"x": {"datum": -3.95, "type": "quantitative", "title": null}, "y": {"datum": 2.1826, "type": "quantitative", "title": null}}}
  ]}
 ]
},
{
 "width": 260, "height": 150, "data": {"name": "gold"},
 "resolve": {"scale": {"y": "independent"}},
 "layer": [
  {"mark": {"type": "bar", "width": 4}, "encoding": {"x": {"field": "i", "type": "quantitative", "title": null, "scale": {"domain": [-0.45, 64.55], "nice": false, "zero": false}, "axis": {"tickCount": 100, "labelOverlap": false, "values": [7.25, 31.25, 55.25], "labelExpr": "datum.value < 20 ? 'Jan 30' : datum.value < 40 ? '2AM' : '4AM'"}}, "y": {"field": "v", "type": "quantitative", "title": null, "scale": {"domain": [0, 25700], "nice": false}, "axis": {"tickCount": 100, "labelOverlap": false, "orient": "left", "values": [2000, 4000], "grid": false, "labelPadding": 6, "labelExpr": "datum.value / 1000 + 'k'"}}, "color": {"condition": {"test": "datum.c >= datum.o", "value": "#aadfa2"}, "value": "#f8bcbc"}}},
  {"layer": [
   {"mark": {"type": "rule", "strokeWidth": 1}, "encoding": {"x": {"field": "i", "type": "quantitative", "title": null, "scale": {"domain": [-0.45, 64.55], "nice": false, "zero": false}}, "y": {"field": "l", "type": "quantitative", "title": null, "scale": {"domain": [4950, 5300], "nice": false, "zero": false}, "axis": {"tickCount": 100, "labelOverlap": false, "orient": "right", "values": [4950, 5000, 5050, 5100, 5150, 5200, 5250, 5300], "labelExpr": "datum.value == 5000 ? '' : format(datum.value, 'd')"}}, "y2": {"field": "h"}, "color": {"condition": {"test": "datum.c >= datum.o", "value": "#006400"}, "value": "#800000"}}},
   {"mark": {"type": "bar", "width": 2.6, "strokeWidth": 1}, "encoding": {"x": {"field": "i", "type": "quantitative", "title": null, "scale": {"domain": [-0.45, 64.55], "nice": false, "zero": false}}, "y": {"field": "o", "type": "quantitative", "title": null, "scale": {"domain": [4950, 5300], "nice": false, "zero": false}}, "y2": {"field": "c"}, "fill": {"condition": {"test": "datum.c >= datum.o", "value": "#22cc22"}, "value": "#dd1111"}, "stroke": {"condition": {"test": "datum.c >= datum.o", "value": "#006400"}, "value": "#800000"}}},
   {"data": {"values": [{}]}, "mark": {"type": "rect", "color": "#fbf000"}, "encoding": {"x": {"datum": 64.8, "type": "quantitative", "title": null}, "x2": {"datum": 73.3}, "y": {"datum": 4995.5, "type": "quantitative", "title": null}, "y2": {"datum": 5023.5}}},
   {"data": {"values": [{}]}, "mark": {"type": "text", "text": "5009.50", "fontSize": 10, "fontWeight": "bold", "color": "#000000", "align": "left", "baseline": "middle"}, "encoding": {"x": {"datum": 65.15, "type": "quantitative", "title": null}, "y": {"datum": 5009.5, "type": "quantitative", "title": null}}},
   {"data": {"values": [{}]}, "mark": {"type": "text", "text": "Gold", "fontSize": 21, "fontWeight": "bold", "color": "#888888", "align": "left", "baseline": "alphabetic"}, "encoding": {"x": {"datum": -7.08, "type": "quantitative", "title": null}, "y": {"datum": 5290.67, "type": "quantitative", "title": null}}},
   {"data": {"values": [{}]}, "mark": {"type": "text", "text": "04:45 AM", "fontSize": 9.5, "color": "#808080", "align": "left", "baseline": "middle"}, "encoding": {"x": {"datum": 16.05, "type": "quantitative", "title": null}, "y": {"datum": 5317.5, "type": "quantitative", "title": null}}},
   {"data": {"values": [{}]}, "mark": {"type": "text", "text": "-345.30 (6.45%)", "fontSize": 10.5, "color": "#dd0000", "align": "right", "baseline": "middle"}, "encoding": {"x": {"datum": 56.93, "type": "quantitative", "title": null}, "y": {"datum": 5317.5, "type": "quantitative", "title": null}}},
   {"data": {"values": [{}]}, "mark": {"type": "text", "text": "© finviz.com", "fontSize": 9, "color": "#7fb2e5", "align": "right", "baseline": "middle"}, "encoding": {"x": {"datum": 72.3, "type": "quantitative", "title": null}, "y": {"datum": 5321, "type": "quantitative", "title": null}}},
   {"data": {"values": [{}]}, "mark": {"type": "text", "text": "5 MIN", "fontSize": 12, "fontWeight": "bold", "color": "#dadada", "angle": 270, "align": "center", "baseline": "middle"}, "encoding": {"x": {"datum": -3.95, "type": "quantitative", "title": null}, "y": {"datum": 5164.7, "type": "quantitative", "title": null}}}
  ]}
 ]
},
{
 "width": 260, "height": 150, "data": {"name": "silver"},
 "resolve": {"scale": {"y": "independent"}},
 "layer": [
  {"mark": {"type": "bar", "width": 4}, "encoding": {"x": {"field": "i", "type": "quantitative", "title": null, "scale": {"domain": [-0.45, 64.55], "nice": false, "zero": false}, "axis": {"tickCount": 100, "labelOverlap": false, "values": [7.1, 31.25, 55.25], "labelExpr": "datum.value < 20 ? 'Jan 30' : datum.value < 40 ? '2AM' : '4AM'"}}, "y": {"field": "v", "type": "quantitative", "title": null, "scale": {"domain": [0, 20000], "nice": false}, "axis": {"tickCount": 100, "labelOverlap": false, "orient": "left", "values": [2000, 4000], "grid": false, "labelPadding": 6, "labelExpr": "datum.value / 1000 + 'k'"}}, "color": {"condition": {"test": "datum.c >= datum.o", "value": "#aadfa2"}, "value": "#f8bcbc"}}},
  {"layer": [
   {"mark": {"type": "rule", "strokeWidth": 1}, "encoding": {"x": {"field": "i", "type": "quantitative", "title": null, "scale": {"domain": [-0.45, 64.55], "nice": false, "zero": false}}, "y": {"field": "l", "type": "quantitative", "title": null, "scale": {"domain": [94.13, 113.98], "nice": false, "zero": false}, "axis": {"tickCount": 100, "labelOverlap": false, "orient": "right", "values": [95, 100, 105, 110], "format": ".2f"}}, "y2": {"field": "h"}, "color": {"condition": {"test": "datum.c >= datum.o", "value": "#006400"}, "value": "#800000"}}},
   {"mark": {"type": "bar", "width": 2.6, "strokeWidth": 1}, "encoding": {"x": {"field": "i", "type": "quantitative", "title": null, "scale": {"domain": [-0.45, 64.55], "nice": false, "zero": false}}, "y": {"field": "o", "type": "quantitative", "title": null, "scale": {"domain": [94.13, 113.98], "nice": false, "zero": false}}, "y2": {"field": "c"}, "fill": {"condition": {"test": "datum.c >= datum.o", "value": "#22cc22"}, "value": "#dd1111"}, "stroke": {"condition": {"test": "datum.c >= datum.o", "value": "#006400"}, "value": "#800000"}}},
   {"data": {"values": [{}]}, "mark": {"type": "rect", "color": "#fbf000"}, "encoding": {"x": {"datum": 64.8, "type": "quantitative", "title": null}, "x2": {"datum": 71.8}, "y": {"datum": 96.406, "type": "quantitative", "title": null}, "y2": {"datum": 97.994}}},
   {"data": {"values": [{}]}, "mark": {"type": "text", "text": "97.20", "fontSize": 10, "fontWeight": "bold", "color": "#000000", "align": "left", "baseline": "middle"}, "encoding": {"x": {"datum": 65.15, "type": "quantitative", "title": null}, "y": {"datum": 97.2, "type": "quantitative", "title": null}}},
   {"data": {"values": [{}]}, "mark": {"type": "text", "text": "Silver", "fontSize": 21, "fontWeight": "bold", "color": "#888888", "align": "left", "baseline": "alphabetic"}, "encoding": {"x": {"datum": -7.08, "type": "quantitative", "title": null}, "y": {"datum": 113.451, "type": "quantitative", "title": null}}},
   {"data": {"values": [{}]}, "mark": {"type": "text", "text": "04:45 AM", "fontSize": 9.5, "color": "#808080", "align": "left", "baseline": "middle"}, "encoding": {"x": {"datum": 17.55, "type": "quantitative", "title": null}, "y": {"datum": 114.9725, "type": "quantitative", "title": null}}},
   {"data": {"values": [{}]}, "mark": {"type": "text", "text": "-17.23 (15.06%)", "fontSize": 10.5, "color": "#dd0000", "align": "right", "baseline": "middle"}, "encoding": {"x": {"datum": 56.93, "type": "quantitative", "title": null}, "y": {"datum": 114.9725, "type": "quantitative", "title": null}}},
   {"data": {"values": [{}]}, "mark": {"type": "text", "text": "© finviz.com", "fontSize": 9, "color": "#7fb2e5", "align": "right", "baseline": "middle"}, "encoding": {"x": {"datum": 72.3, "type": "quantitative", "title": null}, "y": {"datum": 115.171, "type": "quantitative", "title": null}}},
   {"data": {"values": [{}]}, "mark": {"type": "text", "text": "5 MIN", "fontSize": 12, "fontWeight": "bold", "color": "#dadada", "angle": 270, "align": "center", "baseline": "middle"}, "encoding": {"x": {"datum": -3.95, "type": "quantitative", "title": null}, "y": {"datum": 106.305, "type": "quantitative", "title": null}}}
  ]}
 ]
},
{
 "width": 260, "height": 150, "data": {"name": "plat"},
 "resolve": {"scale": {"y": "independent"}},
 "layer": [
  {"mark": {"type": "bar", "width": 4}, "encoding": {"x": {"field": "i", "type": "quantitative", "title": null, "scale": {"domain": [-0.45, 64.55], "nice": false, "zero": false}, "axis": {"tickCount": 100, "labelOverlap": false, "values": [7.25, 31.25, 55.25], "labelExpr": "datum.value < 20 ? 'Jan 30' : datum.value < 40 ? '2AM' : '4AM'"}}, "y": {"field": "v", "type": "quantitative", "title": null, "scale": {"domain": [0, 5000], "nice": false}, "axis": {"tickCount": 100, "labelOverlap": false, "orient": "left", "values": [500, 1000], "grid": false, "labelPadding": 6, "labelExpr": "format(datum.value / 1000, '.1f') + 'k'"}}, "color": {"condition": {"test": "datum.c >= datum.o", "value": "#aadfa2"}, "value": "#f8bcbc"}}},
  {"layer": [
   {"mark": {"type": "rule", "strokeWidth": 1}, "encoding": {"x": {"field": "i", "type": "quantitative", "title": null, "scale": {"domain": [-0.45, 64.55], "nice": false, "zero": false}}, "y": {"field": "l", "type": "quantitative", "title": null, "scale": {"domain": [2150, 2551], "nice": false, "zero": false}, "axis": {"tickCount": 100, "labelOverlap": false, "orient": "right", "values": [2200, 2300, 2400, 2500], "labelExpr": "datum.value == 2200 ? '' : format(datum.value, 'd')"}}, "y2": {"field": "h"}, "color": {"condition": {"test": "datum.c >= datum.o", "value": "#006400"}, "value": "#800000"}}},
   {"mark": {"type": "bar", "width": 2.6, "strokeWidth": 1}, "encoding": {"x": {"field": "i", "type": "quantitative", "title": null, "scale": {"domain": [-0.45, 64.55], "nice": false, "zero": false}}, "y": {"field": "o", "type": "quantitative", "title": null, "scale": {"domain": [2150, 2551], "nice": false, "zero": false}}, "y2": {"field": "c"}, "fill": {"condition": {"test": "datum.c >= datum.o", "value": "#22cc22"}, "value": "#dd1111"}, "stroke": {"condition": {"test": "datum.c >= datum.o", "value": "#006400"}, "value": "#800000"}}},
   {"data": {"values": [{}]}, "mark": {"type": "rect", "color": "#fbf000"}, "encoding": {"x": {"datum": 64.8, "type": "quantitative", "title": null}, "x2": {"datum": 73.3}, "y": {"datum": 2192.46, "type": "quantitative", "title": null}, "y2": {"datum": 2224.54}}},
   {"data": {"values": [{}]}, "mark": {"type": "text", "text": "2208.50", "fontSize": 10, "fontWeight": "bold", "color": "#000000", "align": "left", "baseline": "middle"}, "encoding": {"x": {"datum": 65.15, "type": "quantitative", "title": null}, "y": {"datum": 2208.5, "type": "quantitative", "title": null}}},
   {"data": {"values": [{}]}, "mark": {"type": "text", "text": "Platinum", "fontSize": 21, "fontWeight": "bold", "color": "#888888", "align": "left", "baseline": "alphabetic"}, "encoding": {"x": {"datum": -7.08, "type": "quantitative", "title": null}, "y": {"datum": 2540.3, "type": "quantitative", "title": null}}},
   {"data": {"values": [{}]}, "mark": {"type": "text", "text": "04:45 AM", "fontSize": 9.5, "color": "#808080", "align": "left", "baseline": "middle"}, "encoding": {"x": {"datum": 20.8, "type": "quantitative", "title": null}, "y": {"datum": 2571.05, "type": "quantitative", "title": null}}},
   {"data": {"values": [{}]}, "mark": {"type": "text", "text": "-409.80 (15.65%)", "fontSize": 10.5, "color": "#dd0000", "align": "right", "baseline": "middle"}, "encoding": {"x": {"datum": 56.93, "type": "quantitative", "title": null}, "y": {"datum": 2571.05, "type": "quantitative", "title": null}}},
   {"data": {"values": [{}]}, "mark": {"type": "text", "text": "© finviz.com", "fontSize": 9, "color": "#7fb2e5", "align": "right", "baseline": "middle"}, "encoding": {"x": {"datum": 72.3, "type": "quantitative", "title": null}, "y": {"datum": 2575.06, "type": "quantitative", "title": null}}},
   {"data": {"values": [{}]}, "mark": {"type": "text", "text": "5 MIN", "fontSize": 12, "fontWeight": "bold", "color": "#dadada", "angle": 270, "align": "center", "baseline": "middle"}, "encoding": {"x": {"datum": -3.95, "type": "quantitative", "title": null}, "y": {"datum": 2395.9, "type": "quantitative", "title": null}}}
  ]}
 ]
},
{
 "width": 260, "height": 150, "data": {"name": "copper"},
 "resolve": {"scale": {"y": "independent"}},
 "layer": [
  {"mark": {"type": "bar", "width": 4}, "encoding": {"x": {"field": "i", "type": "quantitative", "title": null, "scale": {"domain": [-0.45, 64.55], "nice": false, "zero": false}, "axis": {"tickCount": 100, "labelOverlap": false, "values": [7.25, 31.25, 55.25], "labelExpr": "datum.value < 20 ? 'Jan 30' : datum.value < 40 ? '2AM' : '4AM'"}}, "y": {"field": "v", "type": "quantitative", "title": null, "scale": {"domain": [0, 5000], "nice": false}, "axis": {"tickCount": 100, "labelOverlap": false, "orient": "left", "values": [500, 1000], "grid": false, "labelPadding": 6, "labelExpr": "format(datum.value / 1000, '.1f') + 'k'"}}, "color": {"condition": {"test": "datum.c >= datum.o", "value": "#aadfa2"}, "value": "#f8bcbc"}}},
  {"layer": [
   {"mark": {"type": "rule", "strokeWidth": 1}, "encoding": {"x": {"field": "i", "type": "quantitative", "title": null, "scale": {"domain": [-0.45, 64.55], "nice": false, "zero": false}}, "y": {"field": "l", "type": "quantitative", "title": null, "scale": {"domain": [5.8997, 6.1214], "nice": false, "zero": false}, "axis": {"tickCount": 100, "labelOverlap": false, "orient": "right", "values": [5.9, 5.95, 6, 6.05, 6.1], "format": ".4f"}}, "y2": {"field": "h"}, "color": {"condition": {"test": "datum.c >= datum.o", "value": "#006400"}, "value": "#800000"}}},
   {"mark": {"type": "bar", "width": 2.6, "strokeWidth": 1}, "encoding": {"x": {"field": "i", "type": "quantitative", "title": null, "scale": {"domain": [-0.45, 64.55], "nice": false, "zero": false}}, "y": {"field": "o", "type": "quantitative", "title": null, "scale": {"domain": [5.8997, 6.1214], "nice": false, "zero": false}}, "y2": {"field": "c"}, "fill": {"condition": {"test": "datum.c >= datum.o", "value": "#22cc22"}, "value": "#dd1111"}, "stroke": {"condition": {"test": "datum.c >= datum.o", "value": "#006400"}, "value": "#800000"}}},
   {"data": {"values": [{}]}, "mark": {"type": "rect", "color": "#fbf000"}, "encoding": {"x": {"datum": 64.8, "type": "quantitative", "title": null}, "x2": {"datum": 73.3}, "y": {"datum": 5.93063, "type": "quantitative", "title": null}, "y2": {"datum": 5.94837}}},
   {"data": {"values": [{}]}, "mark": {"type": "text", "text": "5.9395", "fontSize": 10, "fontWeight": "bold", "color": "#000000", "align": "left", "baseline": "middle"}, "encoding": {"x": {"datum": 65.15, "type": "quantitative", "title": null}, "y": {"datum": 5.9395, "type": "quantitative", "title": null}}},
   {"data": {"values": [{}]}, "mark": {"type": "text", "text": "Copper", "fontSize": 21, "fontWeight": "bold", "color": "#888888", "align": "left", "baseline": "alphabetic"}, "encoding": {"x": {"datum": -7.08, "type": "quantitative", "title": null}, "y": {"datum": 6.1155, "type": "quantitative", "title": null}}},
   {"data": {"values": [{}]}, "mark": {"type": "text", "text": "04:45 AM", "fontSize": 9.5, "color": "#808080", "align": "left", "baseline": "middle"}, "encoding": {"x": {"datum": 19.55, "type": "quantitative", "title": null}, "y": {"datum": 6.1325, "type": "quantitative", "title": null}}},
   {"data": {"values": [{}]}, "mark": {"type": "text", "text": "-0.2640 (4.26%)", "fontSize": 10.5, "color": "#dd0000", "align": "right", "baseline": "middle"}, "encoding": {"x": {"datum": 56.93, "type": "quantitative", "title": null}, "y": {"datum": 6.1325, "type": "quantitative", "title": null}}},
   {"data": {"values": [{}]}, "mark": {"type": "text", "text": "© finviz.com", "fontSize": 9, "color": "#7fb2e5", "align": "right", "baseline": "middle"}, "encoding": {"x": {"datum": 72.3, "type": "quantitative", "title": null}, "y": {"datum": 6.1347, "type": "quantitative", "title": null}}},
   {"data": {"values": [{}]}, "mark": {"type": "text", "text": "5 MIN", "fontSize": 12, "fontWeight": "bold", "color": "#dadada", "angle": 270, "align": "center", "baseline": "middle"}, "encoding": {"x": {"datum": -3.95, "type": "quantitative", "title": null}, "y": {"datum": 6.0357, "type": "quantitative", "title": null}}}
  ]}
 ]
},
{
 "width": 260, "height": 150, "data": {"name": "pall"},
 "resolve": {"scale": {"y": "independent"}},
 "layer": [
  {"mark": {"type": "bar", "width": 4}, "encoding": {"x": {"field": "i", "type": "quantitative", "title": null, "scale": {"domain": [-0.45, 64.55], "nice": false, "zero": false}, "axis": {"tickCount": 100, "labelOverlap": false, "values": [8.1, 31.25, 55.25], "labelExpr": "datum.value < 20 ? 'Jan 30' : datum.value < 40 ? '2AM' : '4AM'"}}, "y": {"field": "v", "type": "quantitative", "title": null, "scale": {"domain": [0, 1200], "nice": false}, "axis": {"tickCount": 100, "labelOverlap": false, "orient": "left", "values": [100, 200], "grid": false, "labelPadding": 6}}, "color": {"condition": {"test": "datum.c >= datum.o", "value": "#aadfa2"}, "value": "#f8bcbc"}}},
  {"layer": [
   {"mark": {"type": "rule", "strokeWidth": 1}, "encoding": {"x": {"field": "i", "type": "quantitative", "title": null, "scale": {"domain": [-0.45, 64.55], "nice": false, "zero": false}}, "y": {"field": "l", "type": "quantitative", "title": null, "scale": {"domain": [1699.7, 1961.3], "nice": false, "zero": false}, "axis": {"tickCount": 100, "labelOverlap": false, "orient": "right", "values": [1700, 1750, 1800, 1850, 1900, 1950], "format": "d"}}, "y2": {"field": "h"}, "color": {"condition": {"test": "datum.c >= datum.o", "value": "#006400"}, "value": "#800000"}}},
   {"mark": {"type": "bar", "width": 2.6, "strokeWidth": 1}, "encoding": {"x": {"field": "i", "type": "quantitative", "title": null, "scale": {"domain": [-0.45, 64.55], "nice": false, "zero": false}}, "y": {"field": "o", "type": "quantitative", "title": null, "scale": {"domain": [1699.7, 1961.3], "nice": false, "zero": false}}, "y2": {"field": "c"}, "fill": {"condition": {"test": "datum.c >= datum.o", "value": "#22cc22"}, "value": "#dd1111"}, "stroke": {"condition": {"test": "datum.c >= datum.o", "value": "#006400"}, "value": "#800000"}}},
   {"data": {"values": [{}]}, "mark": {"type": "rect", "color": "#fbf000"}, "encoding": {"x": {"datum": 64.8, "type": "quantitative", "title": null}, "x2": {"datum": 73.3}, "y": {"datum": 1769.54, "type": "quantitative", "title": null}, "y2": {"datum": 1790.46}}},
   {"data": {"values": [{}]}, "mark": {"type": "text", "text": "1780.00", "fontSize": 10, "fontWeight": "bold", "color": "#000000", "align": "left", "baseline": "middle"}, "encoding": {"x": {"datum": 65.15, "type": "quantitative", "title": null}, "y": {"datum": 1780, "type": "quantitative", "title": null}}},
   {"data": {"values": [{}]}, "mark": {"type": "text", "text": "Palladium", "fontSize": 21, "fontWeight": "bold", "color": "#888888", "align": "left", "baseline": "alphabetic"}, "encoding": {"x": {"datum": -7.08, "type": "quantitative", "title": null}, "y": {"datum": 1954.3, "type": "quantitative", "title": null}}},
   {"data": {"values": [{}]}, "mark": {"type": "text", "text": "04:45 AM", "fontSize": 9.5, "color": "#808080", "align": "left", "baseline": "middle"}, "encoding": {"x": {"datum": 22.05, "type": "quantitative", "title": null}, "y": {"datum": 1974.4, "type": "quantitative", "title": null}}},
   {"data": {"values": [{}]}, "mark": {"type": "text", "text": "-238.60 (11.82%)", "fontSize": 10.5, "color": "#dd0000", "align": "right", "baseline": "middle"}, "encoding": {"x": {"datum": 56.93, "type": "quantitative", "title": null}, "y": {"datum": 1974.4, "type": "quantitative", "title": null}}},
   {"data": {"values": [{}]}, "mark": {"type": "text", "text": "© finviz.com", "fontSize": 9, "color": "#7fb2e5", "align": "right", "baseline": "middle"}, "encoding": {"x": {"datum": 72.3, "type": "quantitative", "title": null}, "y": {"datum": 1977, "type": "quantitative", "title": null}}},
   {"data": {"values": [{}]}, "mark": {"type": "text", "text": "5 MIN", "fontSize": 12, "fontWeight": "bold", "color": "#dadada", "angle": 270, "align": "center", "baseline": "middle"}, "encoding": {"x": {"datum": -3.95, "type": "quantitative", "title": null}, "y": {"datum": 1860.15, "type": "quantitative", "title": null}}}
  ]}
 ]
},
{
 "width": 260, "height": 150, "data": {"name": "cattle"},
 "resolve": {"scale": {"y": "independent"}},
 "layer": [
  {"mark": {"type": "bar", "width": 4}, "encoding": {"x": {"field": "i", "type": "quantitative", "title": null, "scale": {"domain": [-0.45, 64.55], "nice": false, "zero": false}, "axis": {"tickCount": 100, "labelOverlap": false, "values": [9.25, 16.25, 40.25, 64.55], "labelFlush": true, "labelExpr": "datum.value < 10 ? '' : datum.value < 20 ? '10AM' : datum.value < 50 ? '12PM' : '2PM'"}}, "y": {"field": "v", "type": "quantitative", "title": null, "scale": {"domain": [0, 12000], "nice": false}, "axis": {"tickCount": 100, "labelOverlap": false, "orient": "left", "values": [1000, 2000], "grid": false, "labelPadding": 6, "labelExpr": "format(datum.value / 1000, '.1f') + 'k'"}}, "color": {"condition": {"test": "datum.c >= datum.o", "value": "#aadfa2"}, "value": "#f8bcbc"}}},
  {"layer": [
   {"mark": {"type": "rule", "strokeWidth": 1}, "encoding": {"x": {"field": "i", "type": "quantitative", "title": null, "scale": {"domain": [-0.45, 64.55], "nice": false, "zero": false}}, "y": {"field": "l", "type": "quantitative", "title": null, "scale": {"domain": [236.99, 239.8], "nice": false, "zero": false}, "axis": {"tickCount": 100, "labelOverlap": false, "orient": "right", "values": [237, 237.5, 238, 238.5, 239, 239.5], "format": ".2f"}}, "y2": {"field": "h"}, "color": {"condition": {"test": "datum.c >= datum.o", "value": "#006400"}, "value": "#800000"}}},
   {"mark": {"type": "bar", "width": 2.6, "strokeWidth": 1}, "encoding": {"x": {"field": "i", "type": "quantitative", "title": null, "scale": {"domain": [-0.45, 64.55], "nice": false, "zero": false}}, "y": {"field": "o", "type": "quantitative", "title": null, "scale": {"domain": [236.99, 239.8], "nice": false, "zero": false}}, "y2": {"field": "c"}, "fill": {"condition": {"test": "datum.c >= datum.o", "value": "#22cc22"}, "value": "#dd1111"}, "stroke": {"condition": {"test": "datum.c >= datum.o", "value": "#006400"}, "value": "#800000"}}},
   {"data": {"values": [{}]}, "mark": {"type": "rect", "color": "#fbf000"}, "encoding": {"x": {"datum": 64.8, "type": "quantitative", "title": null}, "x2": {"datum": 73.3}, "y": {"datum": 237.1676, "type": "quantitative", "title": null}, "y2": {"datum": 237.3924}}},
   {"data": {"values": [{}]}, "mark": {"type": "text", "text": "237.28", "fontSize": 10, "fontWeight": "bold", "color": "#000000", "align": "left", "baseline": "middle"}, "encoding": {"x": {"datum": 65.15, "type": "quantitative", "title": null}, "y": {"datum": 237.28, "type": "quantitative", "title": null}}},
   {"data": {"values": [{}]}, "mark": {"type": "text", "text": "Live Cattle", "fontSize": 21, "fontWeight": "bold", "color": "#888888", "align": "left", "baseline": "alphabetic"}, "encoding": {"x": {"datum": -7.08, "type": "quantitative", "title": null}, "y": {"datum": 239.725, "type": "quantitative", "title": null}}},
   {"data": {"values": [{}]}, "mark": {"type": "text", "text": "02:00 PM", "fontSize": 9.5, "color": "#808080", "align": "left", "baseline": "middle"}, "encoding": {"x": {"datum": 25.05, "type": "quantitative", "title": null}, "y": {"datum": 239.9405, "type": "quantitative", "title": null}}},
   {"data": {"values": [{}]}, "mark": {"type": "text", "text": "-1.45 (0.61%)", "fontSize": 10.5, "color": "#dd0000", "align": "right", "baseline": "middle"}, "encoding": {"x": {"datum": 56.93, "type": "quantitative", "title": null}, "y": {"datum": 239.9405, "type": "quantitative", "title": null}}},
   {"data": {"values": [{}]}, "mark": {"type": "text", "text": "© finviz.com", "fontSize": 9, "color": "#7fb2e5", "align": "right", "baseline": "middle"}, "encoding": {"x": {"datum": 72.3, "type": "quantitative", "title": null}, "y": {"datum": 239.9686, "type": "quantitative", "title": null}}},
   {"data": {"values": [{}]}, "mark": {"type": "text", "text": "5 MIN", "fontSize": 12, "fontWeight": "bold", "color": "#dadada", "angle": 270, "align": "center", "baseline": "middle"}, "encoding": {"x": {"datum": -3.95, "type": "quantitative", "title": null}, "y": {"datum": 238.713, "type": "quantitative", "title": null}}}
  ]}
 ]
}
]
}
